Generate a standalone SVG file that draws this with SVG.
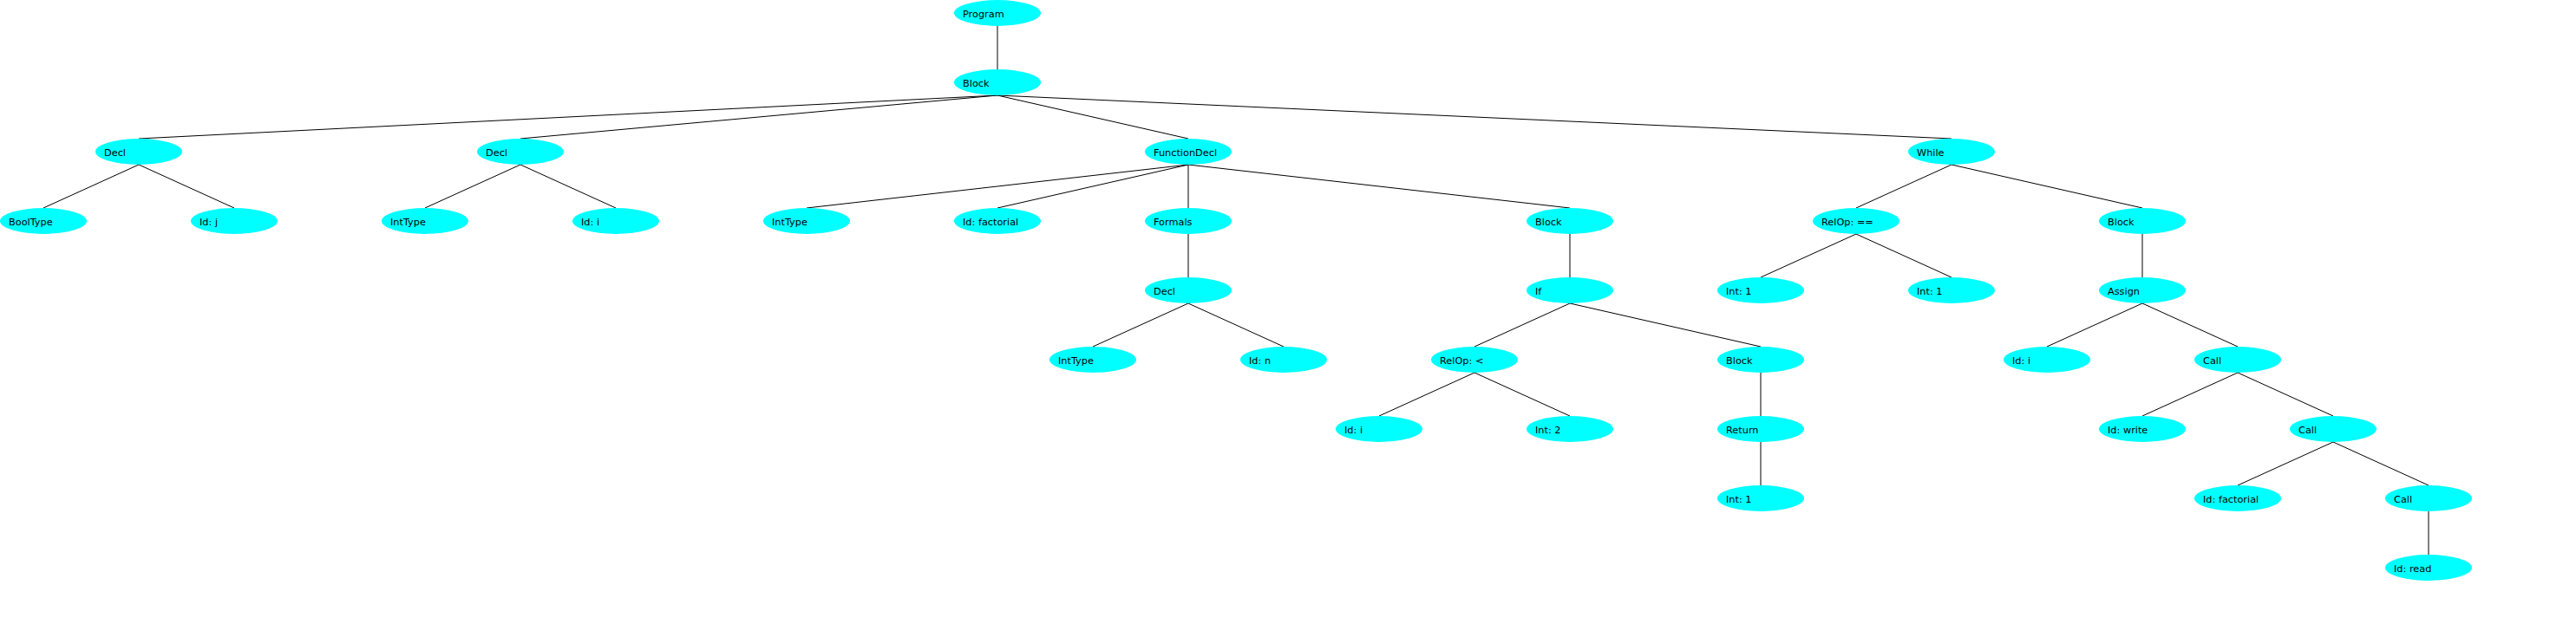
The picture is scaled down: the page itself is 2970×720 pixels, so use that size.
<svg xmlns="http://www.w3.org/2000/svg" width="2970" height="720" viewBox="0 0 2970 720">
<style>
.n ellipse{fill:#00FFFF;stroke:none}
.n text{font-family:"DejaVu Sans","Liberation Sans",sans-serif;font-size:11.3px;fill:#000}
#edges line{stroke:#000;stroke-width:1}
</style>
<rect width="2970" height="720" fill="#fff"/>
<g id="edges">
<line x1="1150" y1="30" x2="1150" y2="80"/>
<line x1="1150" y1="110" x2="160" y2="160"/>
<line x1="1150" y1="110" x2="600" y2="160"/>
<line x1="1150" y1="110" x2="1370" y2="160"/>
<line x1="1150" y1="110" x2="2250" y2="160"/>
<line x1="160" y1="190" x2="50" y2="240"/>
<line x1="160" y1="190" x2="270" y2="240"/>
<line x1="600" y1="190" x2="490" y2="240"/>
<line x1="600" y1="190" x2="710" y2="240"/>
<line x1="1370" y1="190" x2="930" y2="240"/>
<line x1="1370" y1="190" x2="1150" y2="240"/>
<line x1="1370" y1="190" x2="1370" y2="240"/>
<line x1="1370" y1="190" x2="1810" y2="240"/>
<line x1="1370" y1="270" x2="1370" y2="320"/>
<line x1="1370" y1="350" x2="1260" y2="400"/>
<line x1="1370" y1="350" x2="1480" y2="400"/>
<line x1="1810" y1="270" x2="1810" y2="320"/>
<line x1="1810" y1="350" x2="1700" y2="400"/>
<line x1="1810" y1="350" x2="2030" y2="400"/>
<line x1="1700" y1="430" x2="1590" y2="480"/>
<line x1="1700" y1="430" x2="1810" y2="480"/>
<line x1="2030" y1="430" x2="2030" y2="480"/>
<line x1="2030" y1="510" x2="2030" y2="560"/>
<line x1="2250" y1="190" x2="2140" y2="240"/>
<line x1="2250" y1="190" x2="2470" y2="240"/>
<line x1="2140" y1="270" x2="2030" y2="320"/>
<line x1="2140" y1="270" x2="2250" y2="320"/>
<line x1="2470" y1="270" x2="2470" y2="320"/>
<line x1="2470" y1="350" x2="2360" y2="400"/>
<line x1="2470" y1="350" x2="2580" y2="400"/>
<line x1="2580" y1="430" x2="2470" y2="480"/>
<line x1="2580" y1="430" x2="2690" y2="480"/>
<line x1="2690" y1="510" x2="2580" y2="560"/>
<line x1="2690" y1="510" x2="2800" y2="560"/>
<line x1="2800" y1="590" x2="2800" y2="640"/>
</g>
<g id="n0" class="n"><ellipse cx="1150" cy="15" rx="50" ry="15"/><text x="1110" y="20">Program</text></g>
<g id="n1" class="n"><ellipse cx="1150" cy="95" rx="50" ry="15"/><text x="1110" y="100">Block</text></g>
<g id="n2" class="n"><ellipse cx="160" cy="175" rx="50" ry="15"/><text x="120" y="180">Decl</text></g>
<g id="n3" class="n"><ellipse cx="50" cy="255" rx="50" ry="15"/><text x="10" y="260">BoolType</text></g>
<g id="n4" class="n"><ellipse cx="270" cy="255" rx="50" ry="15"/><text x="230" y="260">Id: j</text></g>
<g id="n5" class="n"><ellipse cx="600" cy="175" rx="50" ry="15"/><text x="560" y="180">Decl</text></g>
<g id="n6" class="n"><ellipse cx="490" cy="255" rx="50" ry="15"/><text x="450" y="260">IntType</text></g>
<g id="n7" class="n"><ellipse cx="710" cy="255" rx="50" ry="15"/><text x="670" y="260">Id: i</text></g>
<g id="n8" class="n"><ellipse cx="1370" cy="175" rx="50" ry="15"/><text x="1330" y="180">FunctionDecl</text></g>
<g id="n9" class="n"><ellipse cx="930" cy="255" rx="50" ry="15"/><text x="890" y="260">IntType</text></g>
<g id="n10" class="n"><ellipse cx="1150" cy="255" rx="50" ry="15"/><text x="1110" y="260">Id: factorial</text></g>
<g id="n11" class="n"><ellipse cx="1370" cy="255" rx="50" ry="15"/><text x="1330" y="260">Formals</text></g>
<g id="n12" class="n"><ellipse cx="1370" cy="335" rx="50" ry="15"/><text x="1330" y="340">Decl</text></g>
<g id="n13" class="n"><ellipse cx="1260" cy="415" rx="50" ry="15"/><text x="1220" y="420">IntType</text></g>
<g id="n14" class="n"><ellipse cx="1480" cy="415" rx="50" ry="15"/><text x="1440" y="420">Id: n</text></g>
<g id="n15" class="n"><ellipse cx="1810" cy="255" rx="50" ry="15"/><text x="1770" y="260">Block</text></g>
<g id="n16" class="n"><ellipse cx="1810" cy="335" rx="50" ry="15"/><text x="1770" y="340">If</text></g>
<g id="n17" class="n"><ellipse cx="1700" cy="415" rx="50" ry="15"/><text x="1660" y="420">RelOp: &lt;</text></g>
<g id="n18" class="n"><ellipse cx="1590" cy="495" rx="50" ry="15"/><text x="1550" y="500">Id: i</text></g>
<g id="n19" class="n"><ellipse cx="1810" cy="495" rx="50" ry="15"/><text x="1770" y="500">Int: 2</text></g>
<g id="n20" class="n"><ellipse cx="2030" cy="415" rx="50" ry="15"/><text x="1990" y="420">Block</text></g>
<g id="n21" class="n"><ellipse cx="2030" cy="495" rx="50" ry="15"/><text x="1990" y="500">Return</text></g>
<g id="n22" class="n"><ellipse cx="2030" cy="575" rx="50" ry="15"/><text x="1990" y="580">Int: 1</text></g>
<g id="n23" class="n"><ellipse cx="2250" cy="175" rx="50" ry="15"/><text x="2210" y="180">While</text></g>
<g id="n24" class="n"><ellipse cx="2140" cy="255" rx="50" ry="15"/><text x="2100" y="260">RelOp: ==</text></g>
<g id="n25" class="n"><ellipse cx="2030" cy="335" rx="50" ry="15"/><text x="1990" y="340">Int: 1</text></g>
<g id="n26" class="n"><ellipse cx="2250" cy="335" rx="50" ry="15"/><text x="2210" y="340">Int: 1</text></g>
<g id="n27" class="n"><ellipse cx="2470" cy="255" rx="50" ry="15"/><text x="2430" y="260">Block</text></g>
<g id="n28" class="n"><ellipse cx="2470" cy="335" rx="50" ry="15"/><text x="2430" y="340">Assign</text></g>
<g id="n29" class="n"><ellipse cx="2360" cy="415" rx="50" ry="15"/><text x="2320" y="420">Id: i</text></g>
<g id="n30" class="n"><ellipse cx="2580" cy="415" rx="50" ry="15"/><text x="2540" y="420">Call</text></g>
<g id="n31" class="n"><ellipse cx="2470" cy="495" rx="50" ry="15"/><text x="2430" y="500">Id: write</text></g>
<g id="n32" class="n"><ellipse cx="2690" cy="495" rx="50" ry="15"/><text x="2650" y="500">Call</text></g>
<g id="n33" class="n"><ellipse cx="2580" cy="575" rx="50" ry="15"/><text x="2540" y="580">Id: factorial</text></g>
<g id="n34" class="n"><ellipse cx="2800" cy="575" rx="50" ry="15"/><text x="2760" y="580">Call</text></g>
<g id="n35" class="n"><ellipse cx="2800" cy="655" rx="50" ry="15"/><text x="2760" y="660">Id: read</text></g>
</svg>
